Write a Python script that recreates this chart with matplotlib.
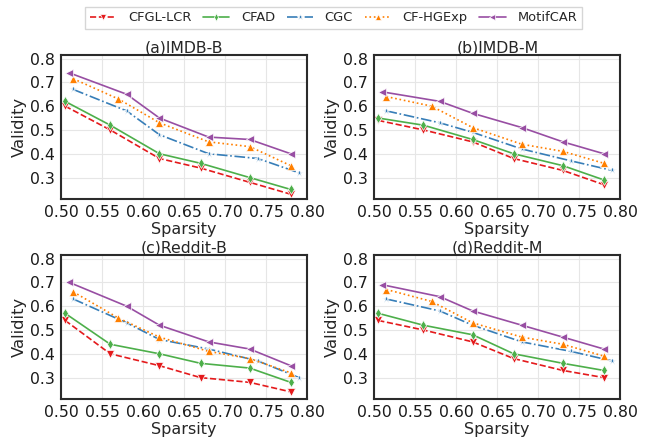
import numpy as np
import matplotlib
matplotlib.use('Agg')
import matplotlib.pyplot as plt
import seaborn as sns

sns.set_style('whitegrid')
plt.rcParams['font.family'] = ['DejaVu Sans']

methods = ['CFGL-LCR', 'CFAD', 'CGC', 'CF-HGExp', 'MotifCAR']
colors = ['#e41a1c', '#4daf4a', '#377eb8', '#ff7f00', '#984ea3']
markers = ['v', 'd', '*', '^', '<']
styles = ['--', '-', '-.', ':', '-']

# sparsity values per method
x_cfgl = [0.505, 0.56, 0.62, 0.67, 0.73, 0.78]
x_cfad = [0.505, 0.56, 0.62, 0.67, 0.73, 0.78]
x_cgc = [0.515, 0.58, 0.62, 0.68, 0.74, 0.79]
x_hge = [0.515, 0.57, 0.62, 0.68, 0.73, 0.78]
x_motif = [0.51, 0.58, 0.62, 0.68, 0.73, 0.78]
xs = [x_cfgl, x_cfad, x_cgc, x_hge, x_motif]

titles = ['(a)IMDB-B', '(b)IMDB-M', '(c)Reddit-B', '(d)Reddit-M']

imdb_b = [[0.60, 0.50, 0.38, 0.34, 0.28, 0.23],
          [0.62, 0.52, 0.40, 0.36, 0.30, 0.25],
          [0.67, 0.58, 0.48, 0.40, 0.38, 0.32],
          [0.715, 0.63, 0.53, 0.45, 0.43, 0.35],
          [0.74, 0.65, 0.55, 0.47, 0.46, 0.40]]
imdb_m = [[0.54, 0.50, 0.45, 0.38, 0.33, 0.27],
          [0.55, 0.52, 0.46, 0.40, 0.35, 0.29],
          [0.58, 0.53, 0.49, 0.42, 0.37, 0.33],
          [0.64, 0.60, 0.51, 0.44, 0.41, 0.36],
          [0.66, 0.62, 0.57, 0.51, 0.45, 0.40]]
reddit_b = [[0.54, 0.40, 0.35, 0.30, 0.28, 0.24],
            [0.57, 0.44, 0.40, 0.36, 0.34, 0.28],
            [0.63, 0.53, 0.46, 0.42, 0.37, 0.30],
            [0.66, 0.55, 0.47, 0.41, 0.38, 0.32],
            [0.70, 0.60, 0.52, 0.45, 0.42, 0.35]]
reddit_m = [[0.54, 0.50, 0.45, 0.38, 0.33, 0.30],
            [0.57, 0.52, 0.48, 0.40, 0.36, 0.33],
            [0.63, 0.58, 0.52, 0.45, 0.41, 0.37],
            [0.67, 0.62, 0.53, 0.47, 0.44, 0.39],
            [0.69, 0.64, 0.58, 0.52, 0.47, 0.42]]
panels = [imdb_b, imdb_m, reddit_b, reddit_m]

fig = plt.figure(figsize=(6.67, 4.38), dpi=100)
lefts = [0.0915, 0.561, 0.0915, 0.561]
bottoms = [0.5457, 0.5457, 0.089, 0.089]

handles = []
for k in range(4):
    ax = fig.add_axes([lefts[k], bottoms[k], 0.369, 0.3288])
    for i in range(5):
        ln, = ax.plot(xs[i], panels[k][i], color=colors[i], linestyle=styles[i],
                      marker=markers[i], markersize=5.5, markeredgecolor='white',
                      markeredgewidth=0.5, linewidth=1.2, label=methods[i])
        if k == 0:
            handles.append(ln)
    ax.set_xlim(0.50, 0.80)
    ax.set_ylim(0.21, 0.815)
    ax.set_xticks([0.50, 0.55, 0.60, 0.65, 0.70, 0.75, 0.80])
    ax.set_yticks([0.3, 0.4, 0.5, 0.6, 0.7, 0.8])
    ax.tick_params(labelsize=11.3, pad=1, colors='#1a1a1a')
    ax.set_title(titles[k], fontsize=11.3, pad=2)
    ax.set_xlabel('Sparsity', fontsize=11.5, labelpad=1)
    ax.set_ylabel('Validity', fontsize=11.8, labelpad=2)
    ax.grid(color='#e6e6e6', linewidth=0.8)
    for s in ax.spines.values():
        s.set_color('#2b2b2b')
        s.set_linewidth(1.5)

fig.legend(handles=handles, loc='upper center', ncol=5, fontsize=9.4,
           bbox_to_anchor=(0.5, 1.0), frameon=True, fancybox=False,
           edgecolor='#cccccc', handlelength=2.0, handletextpad=0.9,
           columnspacing=0.9, borderpad=0.35, markerscale=0.75)

fig.savefig('out.png', dpi=100)
